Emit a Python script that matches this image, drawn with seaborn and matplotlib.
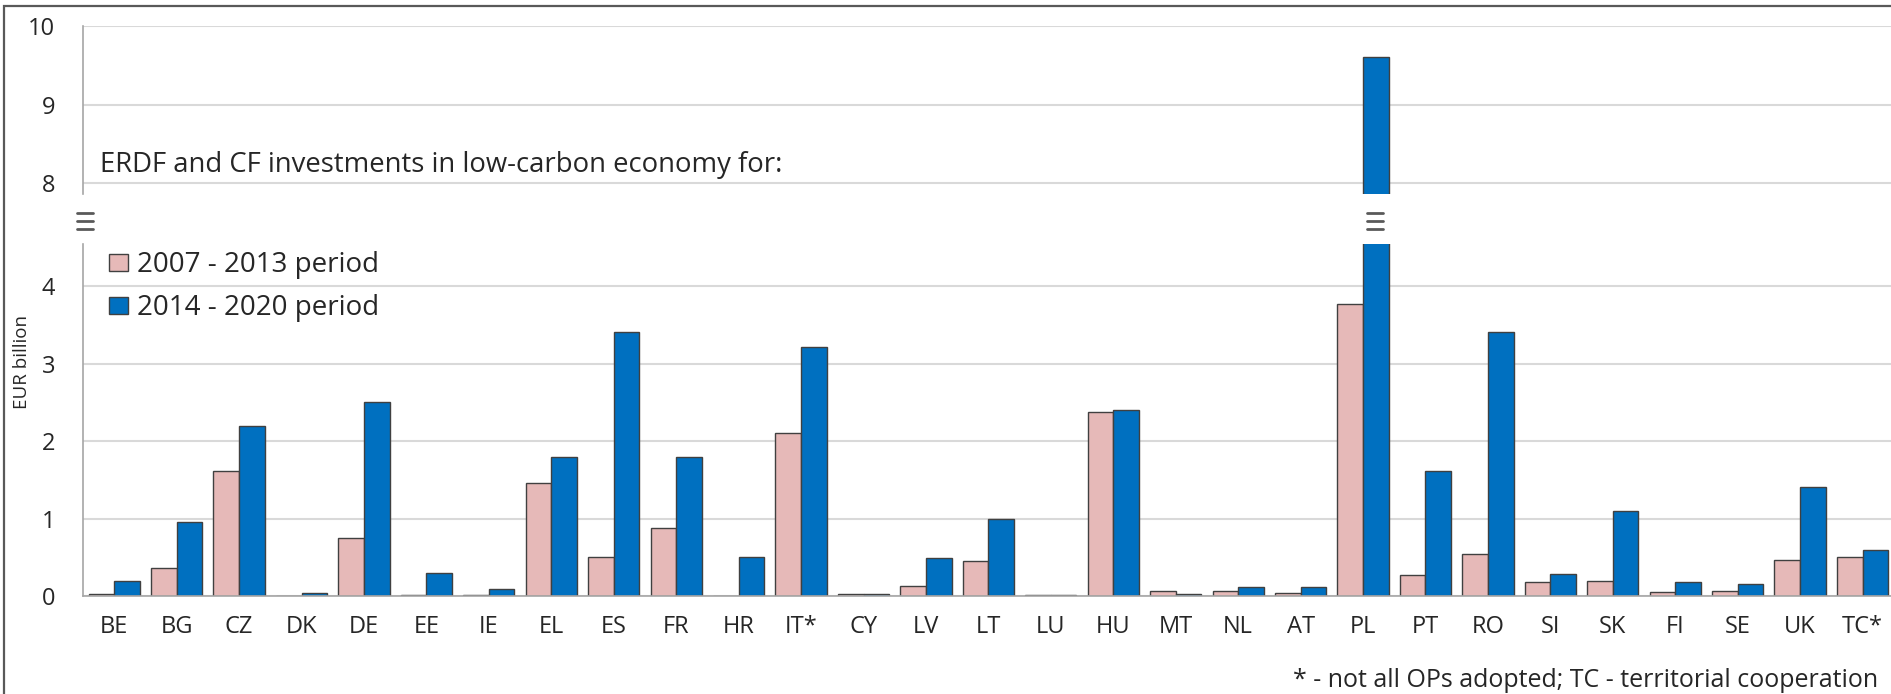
import numpy as np
import pandas as pd
import matplotlib
matplotlib.use("Agg")
import matplotlib.pyplot as plt
import seaborn as sns
from matplotlib.lines import Line2D
from matplotlib.patches import Rectangle, Patch

# data (EUR billion)
countries = ["BE", "BG", "CZ", "DK", "DE", "EE", "IE", "EL", "ES", "FR", "HR", "IT*", "CY", "LV",
             "LT", "LU", "HU", "MT", "NL", "AT", "PL", "PT", "RO", "SI", "SK", "FI", "SE", "UK", "TC*"]
period_2007 = [0.03, 0.365, 1.61, 0.0, 0.75, 0.015, 0.015, 1.46, 0.5, 0.88, 0.0, 2.1, 0.03, 0.13,
               0.45, 0.015, 2.37, 0.07, 0.07, 0.035, 3.77, 0.27, 0.54, 0.185, 0.2, 0.05, 0.07, 0.47, 0.5]
period_2014 = [0.2, 0.96, 2.2, 0.035, 2.5, 0.3, 0.085, 1.8, 3.41, 1.8, 0.5, 3.21, 0.03, 0.49,
               1.0, 0.015, 2.4, 0.03, 0.12, 0.12, 9.6, 1.61, 3.41, 0.28, 1.1, 0.185, 0.15, 1.41, 0.6]
periods = ["2007 - 2013 period", "2014 - 2020 period"]
colors = ["#E6B9B8", "#0070C0"]
upper_ticks = [8, 9, 10]
lower_ticks = [0, 1, 2, 3, 4]

df = pd.DataFrame({
    "country": countries * 2,
    "period": [periods[0]] * len(countries) + [periods[1]] * len(countries),
    "value": period_2007 + period_2014,
})

sns.set_style("white")
plt.rcParams["font.family"] = ["Open Sans", "DejaVu Sans"]

W, H = 1891, 694
fig = plt.figure(figsize=(W / 100, H / 100), dpi=100)

def fx(px):
    return px / W

def fy(py):
    return 1 - py / H

left, right = 83, 83 + 29 * 62.44
ax_up = fig.add_axes([fx(left), fy(194.3), fx(right - left), (194.3 - 26) / H])
ax_lo = fig.add_axes([fx(left), fy(596), fx(right - left), (596 - 244.3) / H])

axis_gray = "#A6A6A6"
text_col = "#262626"

for ax in (ax_up, ax_lo):
    sns.barplot(data=df, x="country", y="value", hue="period", palette=colors, width=0.82,
                saturation=1, edgecolor="#404040", linewidth=1.0, legend=False, ax=ax)
    ax.set_xlim(-0.5, 28.5)
    ax.set_xlabel("")
    ax.set_ylabel("")
    ax.yaxis.grid(True, color="#D9D9D9", linewidth=1.5)
    ax.xaxis.grid(False)
    ax.set_axisbelow(True)
    for s in ("top", "right"):
        ax.spines[s].set_visible(False)
    ax.spines["left"].set_color(axis_gray)
    ax.spines["left"].set_linewidth(1.2)
    ax.tick_params(axis="y", length=9, width=1.2, color=axis_gray, pad=11,
                   labelsize=17, labelcolor=text_col)

ax_up.set_ylim(7.86, 10)
ax_up.set_yticks(upper_ticks)
ax_up.spines["bottom"].set_visible(False)
ax_up.tick_params(axis="x", length=0, labelbottom=False)

ax_lo.set_ylim(0, 4.54)
ax_lo.set_yticks(lower_ticks)
ax_lo.spines["bottom"].set_color(axis_gray)
ax_lo.spines["bottom"].set_linewidth(1.2)
ax_lo.tick_params(axis="x", length=0, pad=14, labelsize=17, labelcolor=text_col)

# legend
handles = [Patch(facecolor=c, edgecolor="#404040", linewidth=1.0) for c in colors]
ax_lo.legend(handles, periods, loc="upper left", bbox_to_anchor=(fx(109), fy(251)),
             bbox_transform=fig.transFigure, frameon=False, fontsize=20,
             handlelength=0.7, handleheight=0.55, handletextpad=0.3,
             labelspacing=0.55, borderpad=0, borderaxespad=0, labelcolor=text_col)

fig.text(fx(100), fy(172), "ERDF and CF investments in low-carbon economy for:",
         fontsize=19.8, color=text_col, va="baseline", ha="left")
fig.text(fx(22), fy(362), "EUR billion", fontsize=13.5, color=text_col,
         rotation=90, ha="center", va="center")
fig.text(fx(1878), fy(687), "* - not all OPs adopted; TC - territorial cooperation",
         fontsize=18, color=text_col, ha="right", va="baseline")

# axis break marks
def break_mark(xc, yc=221):
    for dy in (-8, 0, 8):
        fig.add_artist(Line2D([fx(xc - 8), fx(xc + 8)], [fy(yc + dy), fy(yc + dy)],
                              color="#595959", linewidth=2, transform=fig.transFigure))

break_mark(85)
break_mark(1375)

# outer frame
fig.add_artist(Rectangle((fx(4), -0.1), 1.2, fy(6) + 0.1, transform=fig.transFigure,
                         fill=False, edgecolor="#595959", linewidth=1.6))

fig.savefig("out.png", dpi=100)
